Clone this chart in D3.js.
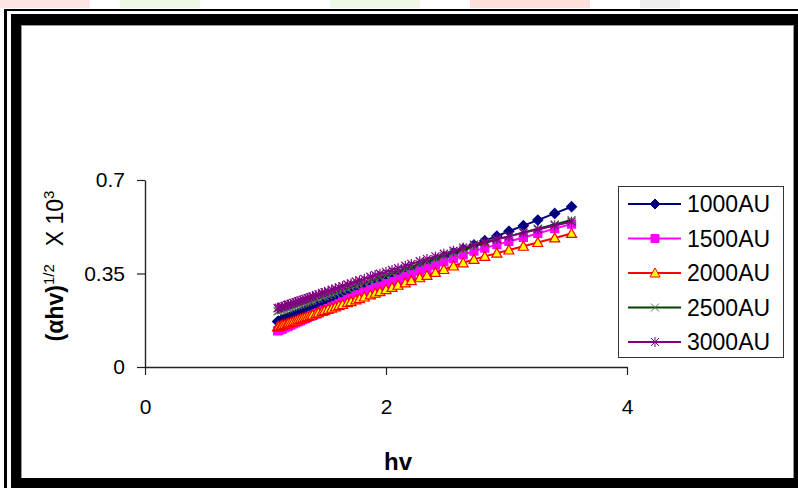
<!DOCTYPE html>
<html>
<head>
<meta charset="utf-8">
<script src="https://cdn.jsdelivr.net/npm/d3@7"></script>
<style>
  body { margin: 0; background: #fff; }
  svg { display: block; font-family: "Liberation Sans", Arial, sans-serif; }
</style>
</head>
<body>
<svg id="chart"></svg>
<script>
// photon energy (eV)
const hv = [1.10,1.11,1.13,1.14,1.16,1.18,1.19,1.21,1.23,1.25,1.27,1.29,1.31,1.33,1.35,1.37,1.39,1.42,1.44,1.47,
  1.49,1.52,1.55,1.58,1.61,1.64,1.68,1.71,1.75,1.78,1.82,1.87,1.91,1.95,2.00,2.05,2.10,2.16,2.21,2.28,
  2.34,2.41,2.48,2.56,2.64,2.73,2.82,2.92,3.02,3.14,3.26,3.40,3.54];

const au1000 = [0.170,0.172,0.175,0.177,0.181,0.184,0.186,0.189,0.193,0.196,0.200,0.203,0.207,0.210,0.214,0.218,0.221,0.226,0.230,0.235,
  0.239,0.244,0.249,0.254,0.260,0.265,0.272,0.277,0.284,0.290,0.297,0.306,0.313,0.320,0.328,0.337,0.346,0.357,0.365,0.378,
  0.388,0.401,0.413,0.427,0.441,0.457,0.473,0.490,0.508,0.529,0.550,0.575,0.600];
const au1500 = [0.135,0.137,0.141,0.143,0.147,0.151,0.153,0.157,0.161,0.165,0.169,0.173,0.177,0.181,0.185,0.189,0.193,0.199,0.203,0.209,
  0.213,0.219,0.225,0.231,0.237,0.244,0.252,0.258,0.266,0.272,0.280,0.290,0.297,0.303,0.312,0.320,0.329,0.339,0.347,0.359,
  0.369,0.381,0.393,0.406,0.420,0.434,0.445,0.458,0.470,0.485,0.500,0.518,0.535];
const au2000 = [0.150,0.152,0.155,0.156,0.159,0.162,0.164,0.167,0.170,0.173,0.177,0.180,0.183,0.186,0.189,0.192,0.195,0.200,0.203,0.208,
  0.211,0.216,0.220,0.225,0.230,0.234,0.241,0.245,0.251,0.256,0.262,0.270,0.276,0.282,0.290,0.298,0.306,0.315,0.323,0.334,
  0.343,0.354,0.365,0.378,0.390,0.403,0.414,0.426,0.438,0.452,0.466,0.483,0.500];
const au2500 = [0.208,0.210,0.212,0.214,0.216,0.219,0.221,0.223,0.226,0.229,0.232,0.235,0.238,0.241,0.244,0.247,0.250,0.254,0.257,0.262,
  0.265,0.269,0.274,0.278,0.283,0.288,0.294,0.298,0.305,0.309,0.315,0.323,0.329,0.335,0.342,0.350,0.357,0.366,0.374,0.385,
  0.394,0.404,0.415,0.427,0.439,0.452,0.464,0.477,0.489,0.504,0.518,0.534,0.550];
const au3000 = [0.220,0.222,0.225,0.226,0.229,0.232,0.234,0.237,0.240,0.243,0.246,0.249,0.252,0.255,0.258,0.261,0.264,0.269,0.272,0.277,
  0.280,0.284,0.289,0.293,0.298,0.303,0.309,0.313,0.320,0.324,0.330,0.338,0.344,0.349,0.356,0.363,0.370,0.379,0.386,0.396,
  0.404,0.414,0.424,0.435,0.447,0.458,0.468,0.479,0.489,0.502,0.515,0.530,0.544];

const seriesNames = ['1000AU', '1500AU', '2000AU', '2500AU', '3000AU'];
const xTicks = [0, 2, 4];
const yTicks = [0, 0.35, 0.7];

const W = 798, H = 488;
const svg = d3.select('#chart').attr('width', W).attr('height', H);

// faint watermark remains along the top edge
const wm = [[0, 90, '#fde3e3'], [120, 80, '#eef8e4'], [330, 90, '#eef8e4'], [470, 120, '#fde0da'], [640, 40, '#eeeeee']];
wm.forEach(w => svg.append('rect').attr('x', w[0]).attr('y', 0).attr('width', w[1]).attr('height', 8).attr('fill', w[2]));

// picture frame
svg.append('rect').attr('x', 4).attr('y', 9).attr('width', 794).attr('height', 2).attr('fill', '#000');
svg.append('rect').attr('x', 4).attr('y', 9).attr('width', 3).attr('height', 479).attr('fill', '#000');
svg.append('rect').attr('x', 11).attr('y', 14).attr('width', 787).attr('height', 474).attr('fill', '#000');
svg.append('rect').attr('x', 21).attr('y', 25).attr('width', 773).attr('height', 453).attr('fill', '#999');
svg.append('rect').attr('x', 22).attr('y', 26).attr('width', 771).attr('height', 452).attr('fill', '#fff');

const m = {left: 145, top: 180, right: 627, bottom: 367};
const x = d3.scaleLinear().domain([0, 4]).range([m.left, m.right]);
const y = d3.scaleLinear().domain([0, 0.7]).range([m.bottom, m.top]);

const xAxis = svg.append('g')
    .attr('transform', `translate(0, ${m.bottom})`)
    .call(d3.axisBottom(x).tickValues(xTicks).tickSize(8).tickSizeOuter(0).tickPadding(24).tickFormat(d3.format('d')));
const yAxis = svg.append('g')
    .attr('transform', `translate(${m.left}, 0)`)
    .call(d3.axisLeft(y).tickValues(yTicks).tickSize(8).tickSizeOuter(0).tickPadding(12).tickFormat(d => d));
[xAxis, yAxis].forEach(g => {
    g.select('.domain').attr('stroke', '#222').attr('stroke-width', 1.4);
    g.selectAll('.tick line').attr('stroke', '#222').attr('stroke-width', 1.2);
    g.selectAll('.tick text').attr('fill', '#000').style('font-size', '21px')
        .style('font-family', '"Liberation Sans", Arial, sans-serif');
});

// marker shapes
const shapes = {
    diamond: 'M0,-5L5,0L0,5L-5,0Z',
    square: 'M-4,-4H4V4H-4Z',
    triangle: 'M0,-5L5,4L-5,4Z',
    cross: 'M-4,-4L4,4M4,-4L-4,4',
    star: 'M-4,-4L4,4M4,-4L-4,4M0,-5V5'
};

const series = [
    {name: seriesNames[0], values: au1000, line: '#000080', shape: 'diamond', fill: '#000080', stroke: '#000080'},
    {name: seriesNames[1], values: au1500, line: '#ff00ff', shape: 'square', fill: '#ff00ff', stroke: '#ff00ff'},
    {name: seriesNames[2], values: au2000, line: '#ff0000', shape: 'triangle', fill: '#ffff00', stroke: '#ff0000'},
    {name: seriesNames[3], values: au2500, line: '#004000', shape: 'cross', fill: 'none', stroke: '#4a7a4a'},
    {name: seriesNames[4], values: au3000, line: '#800080', shape: 'star', fill: 'none', stroke: '#800080'}
];

const line = d3.line().x(d => x(d[0])).y(d => y(d[1]));

series.forEach(s => {
    const pts = hv.map((h, i) => [h, s.values[i]]);
    const g = svg.append('g');
    g.append('path').datum(pts).attr('d', line)
        .attr('fill', 'none').attr('stroke', s.line).attr('stroke-width', 2);
    g.selectAll('path.mk').data(pts).enter().append('path')
        .attr('class', 'mk')
        .attr('transform', d => `translate(${x(d[0])}, ${y(d[1])})`)
        .attr('d', shapes[s.shape])
        .attr('fill', s.fill).attr('stroke', s.stroke).attr('stroke-width', 1.2);
});

// legend
const lg = svg.append('g');
lg.append('rect').attr('x', 618.5).attr('y', 186.5).attr('width', 165).attr('height', 171)
    .attr('fill', '#fff').attr('stroke', '#333').attr('stroke-width', 1);
series.forEach((s, i) => {
    const ly = 204 + i * 34.5;
    lg.append('line').attr('x1', 628).attr('x2', 681).attr('y1', ly).attr('y2', ly)
        .attr('stroke', s.line).attr('stroke-width', 2);
    lg.append('path').attr('transform', `translate(655, ${ly})`).attr('d', shapes[s.shape])
        .attr('fill', s.fill).attr('stroke', s.stroke).attr('stroke-width', 1);
    lg.append('text').attr('x', 687).attr('y', ly).attr('dy', '0.36em')
        .style('font-size', '23px').text(s.name);
});

// axis titles
svg.append('text').attr('x', 398).attr('y', 470).attr('text-anchor', 'middle')
    .style('font-size', '24px').style('font-weight', 'bold').text('hv');

const yt = svg.append('text').attr('transform', 'translate(63, 266) rotate(-90)')
    .attr('text-anchor', 'middle').style('font-size', '23px');
yt.append('tspan').style('font-weight', 'bold').text('(αhv)');
yt.append('tspan').attr('dy', -9).style('font-size', '15px').text('1/2');
yt.append('tspan').attr('dy', 9).attr('dx', 18).text('X 10');
yt.append('tspan').attr('dy', -9).style('font-size', '15px').text('3');
</script>
</body>
</html>
